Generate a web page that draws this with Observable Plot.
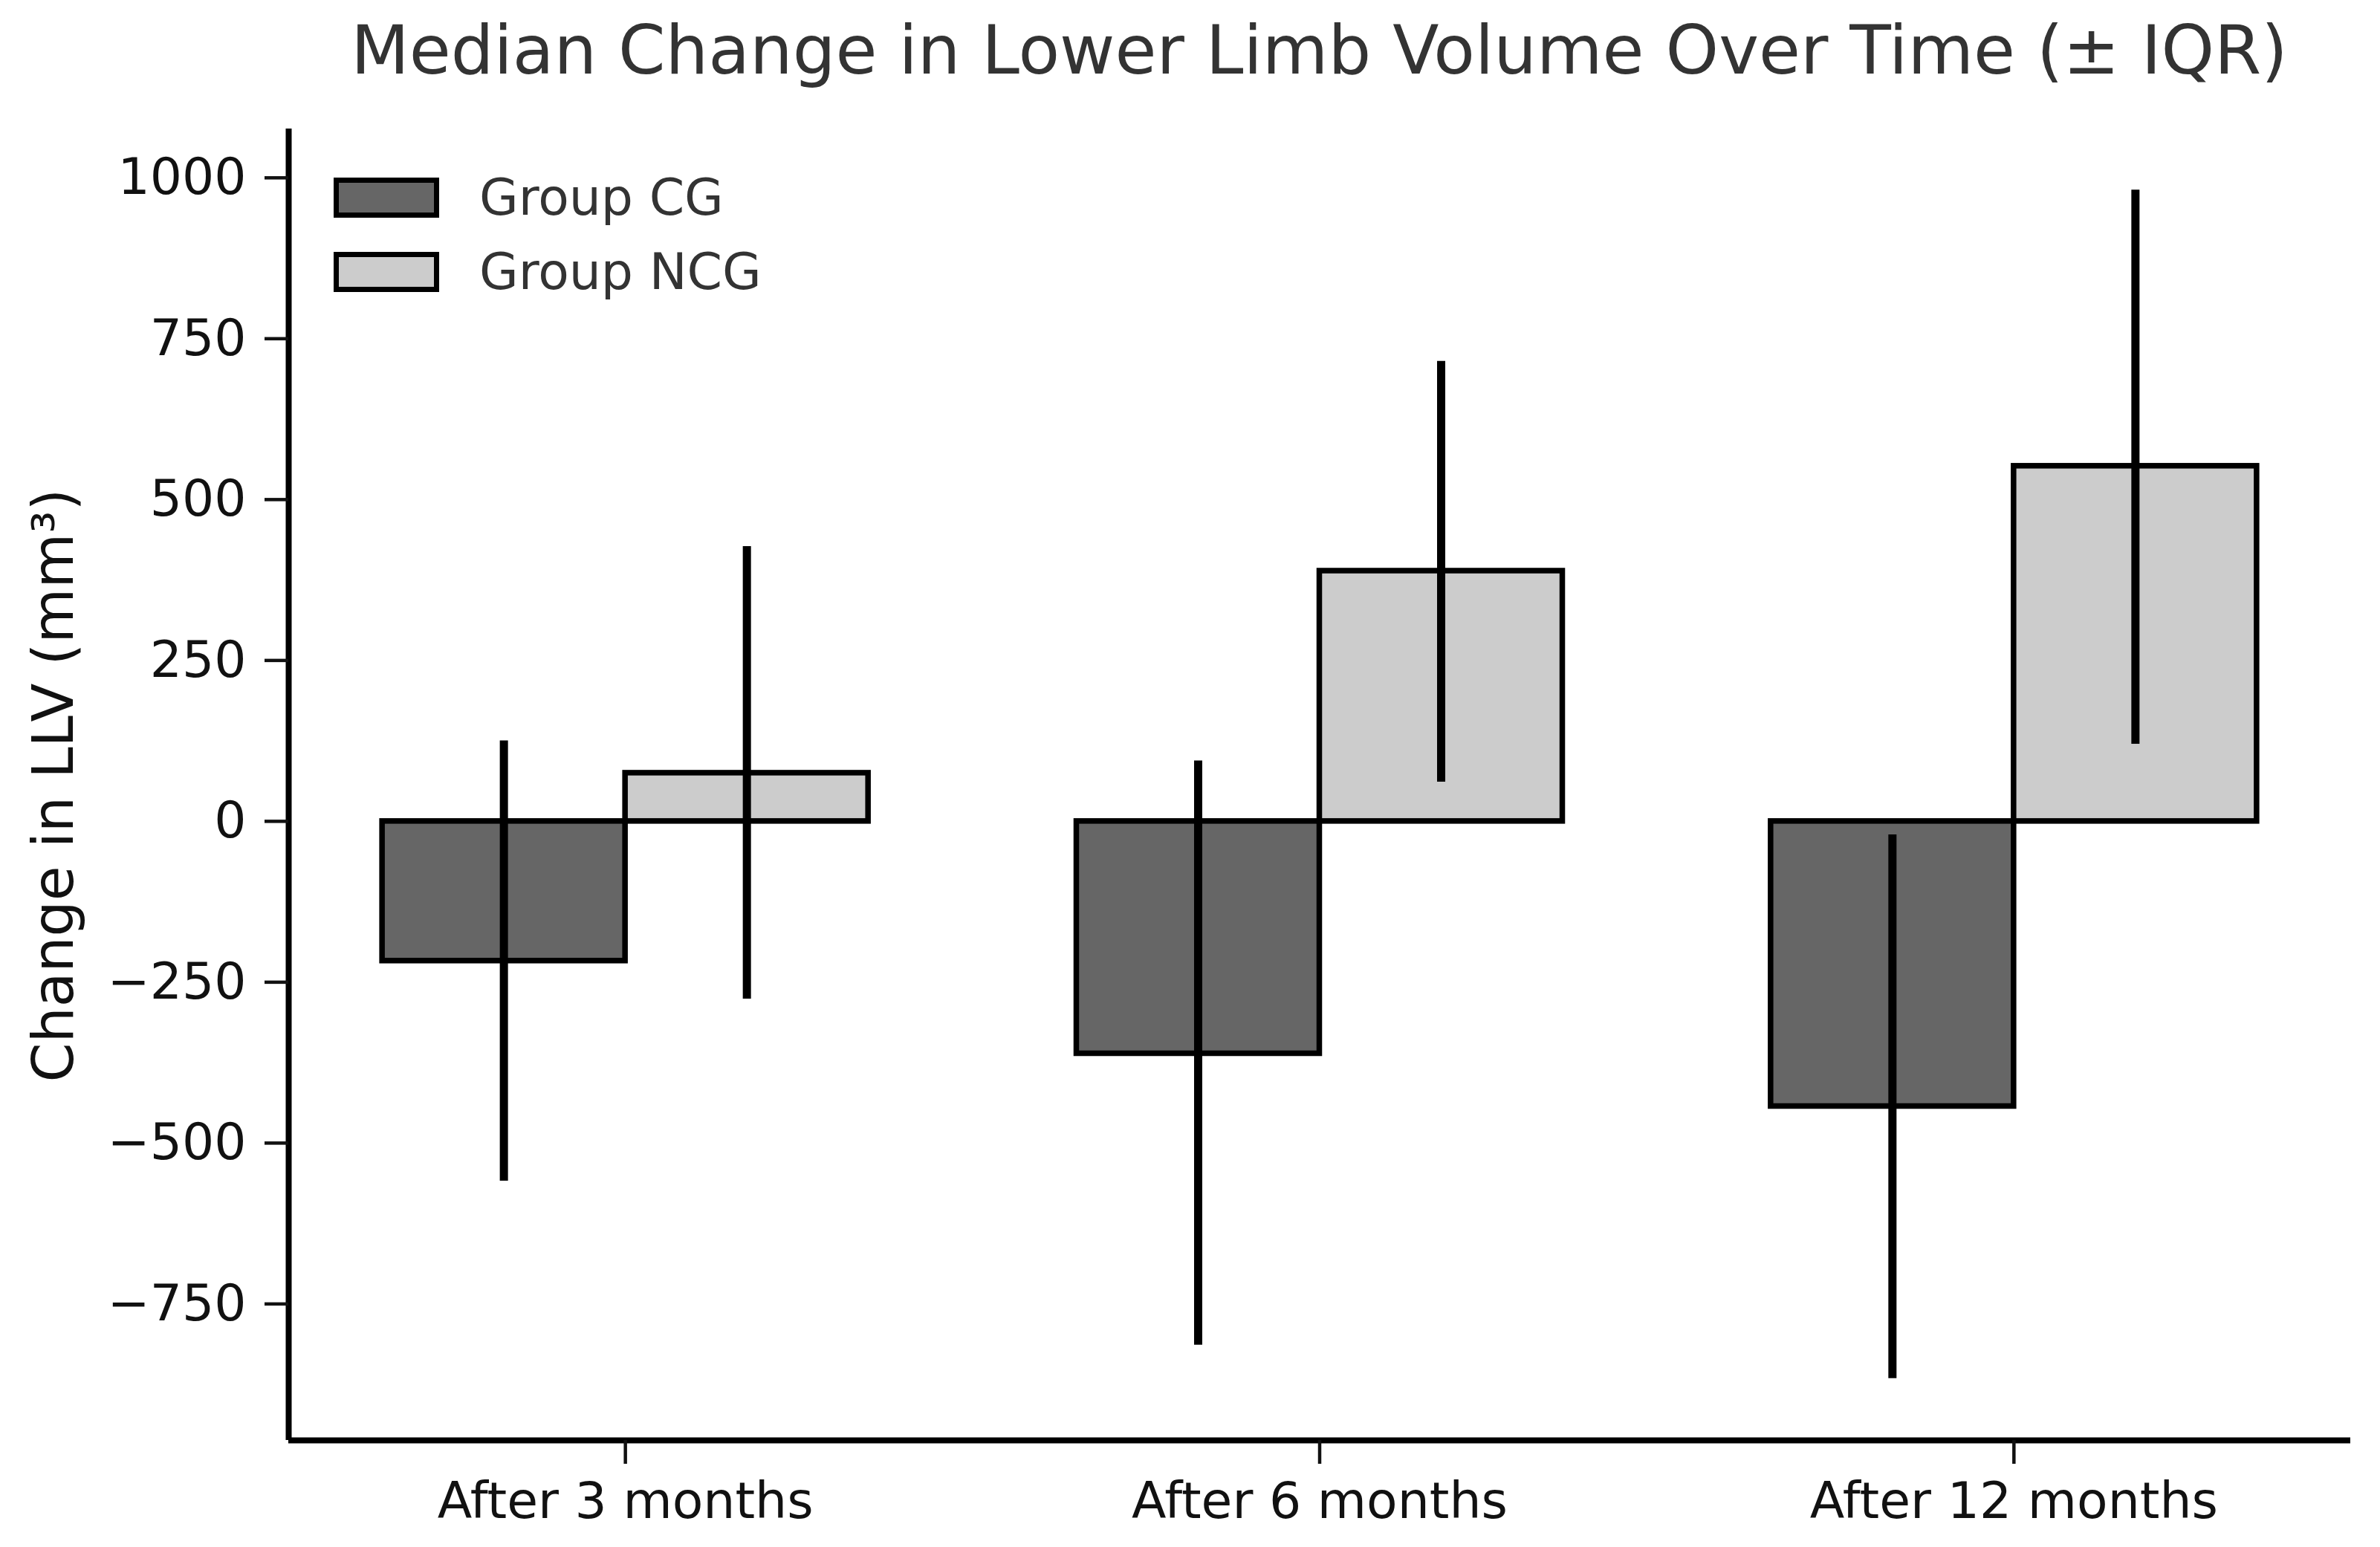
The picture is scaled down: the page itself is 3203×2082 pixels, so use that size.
<!DOCTYPE html>
<html>
<head>
<meta charset="utf-8">
<script src="https://cdn.jsdelivr.net/npm/d3@7"></script>
<script src="https://cdn.jsdelivr.net/npm/@observablehq/plot@0.6"></script>
<style>
  html, body { margin: 0; padding: 0; background: #fff; }
  #wrap { position: relative; width: 3203px; height: 2082px; font-family: "DejaVu Sans", sans-serif; overflow: hidden; }
  #title { position: absolute; left: 388px; width: 2775px; top: 22px; text-align: center; font-size: 91px; line-height: 91px; color: #333; white-space: nowrap; }
  #chart { position: absolute; left: 0; top: 140px; }
  #ylabel { position: absolute; left: 72px; top: 1057px; transform: translate(-50%, -50%) rotate(-90deg); font-size: 76px; color: #111; white-space: nowrap; line-height: 1; }
  .leg { position: absolute; left: 449px; display: flex; align-items: center; }
  .sw { box-sizing: border-box; width: 142px; height: 54px; border: 7px solid #000; }
  .lt { margin-left: 54px; font-size: 68px; color: #333; line-height: 1; white-space: nowrap; }
</style>
</head>
<body>
<div id="wrap">
  <div id="title"></div>
  <div id="chart"></div>
  <div id="ylabel"></div>
  <div id="legend"></div>
</div>
<script>
const categories = ["After 3 months", "After 6 months", "After 12 months"];
const groups = ["Group CG", "Group NCG"];
const groupColors = ["#666666", "#cccccc"];
const cgMedian = [-217, -361, -443];
const cgQ1 = [-559, -814, -866];
const cgQ3 = [125, 94, -21];
const ncgMedian = [75, 389, 552];
const ncgQ1 = [-276, 61, 120];
const ncgQ3 = [427, 715, 981];
const yTicks = [-750, -500, -250, 0, 250, 500, 750, 1000];
const titleText = "Median Change in Lower Limb Volume Over Time (\u00b1 IQR)";
const yLabelText = "Change in LLV (mm\u00b3)";

const barWidth = 0.35;
const rows = [];
categories.forEach((c, i) => {
  rows.push({cat: i, group: groups[0], x1: i - barWidth, x2: i, xc: i - barWidth / 2, median: cgMedian[i], lo: cgQ1[i], hi: cgQ3[i]});
  rows.push({cat: i, group: groups[1], x1: i, x2: i + barWidth, xc: i + barWidth / 2, median: ncgMedian[i], lo: ncgQ1[i], hi: ncgQ3[i]});
});

const span = categories.length - 1 + 2 * barWidth;
const xDomain = [-barWidth - 0.05 * span, categories.length - 1 + barWidth + 0.05 * span];
const yDomain = [-962, 1076];

const chart = Plot.plot({
  width: 3203,
  height: 1942,
  marginTop: 33,
  marginBottom: 144,
  marginLeft: 388,
  marginRight: 40,
  style: {fontFamily: "DejaVu Sans", fontSize: "68px", color: "#111", background: "white", overflow: "visible"},
  x: {type: "linear", domain: xDomain},
  y: {domain: yDomain},
  color: {domain: groups, range: groupColors},
  marks: [
    Plot.rectY(rows, {x1: "x1", x2: "x2", y1: 0, y2: "median", fill: "group", stroke: "#000", strokeWidth: 7.5}),
    Plot.ruleX(rows, {x: "xc", y1: "lo", y2: "hi", stroke: "#000", strokeWidth: 11}),
    Plot.ruleX([xDomain[0]], {stroke: "#000", strokeWidth: 8}),
    Plot.ruleY([yDomain[0]], {stroke: "#000", strokeWidth: 8}),
    Plot.axisX({ticks: [0, 1, 2], tickFormat: i => categories[i], tickSize: 32, tickPadding: 24, strokeWidth: 4.5, label: null, fontSize: 68}),
    Plot.axisY({ticks: yTicks, tickFormat: d3.format("d"), tickSize: 32, tickPadding: 25, strokeWidth: 4.5, label: null, fontSize: 68})
  ]
});
document.getElementById("chart").appendChild(chart);
document.getElementById("title").textContent = titleText;
document.getElementById("ylabel").textContent = yLabelText;

const legend = document.getElementById("legend");
const legendTops = [232, 332];
groups.forEach((g, i) => {
  const row = document.createElement("div");
  row.className = "leg";
  row.style.top = legendTops[i] + "px";
  const sw = document.createElement("div");
  sw.className = "sw";
  sw.style.background = groupColors[i];
  const t = document.createElement("div");
  t.className = "lt";
  t.textContent = g;
  row.appendChild(sw);
  row.appendChild(t);
  legend.appendChild(row);
});
</script>
</body>
</html>
